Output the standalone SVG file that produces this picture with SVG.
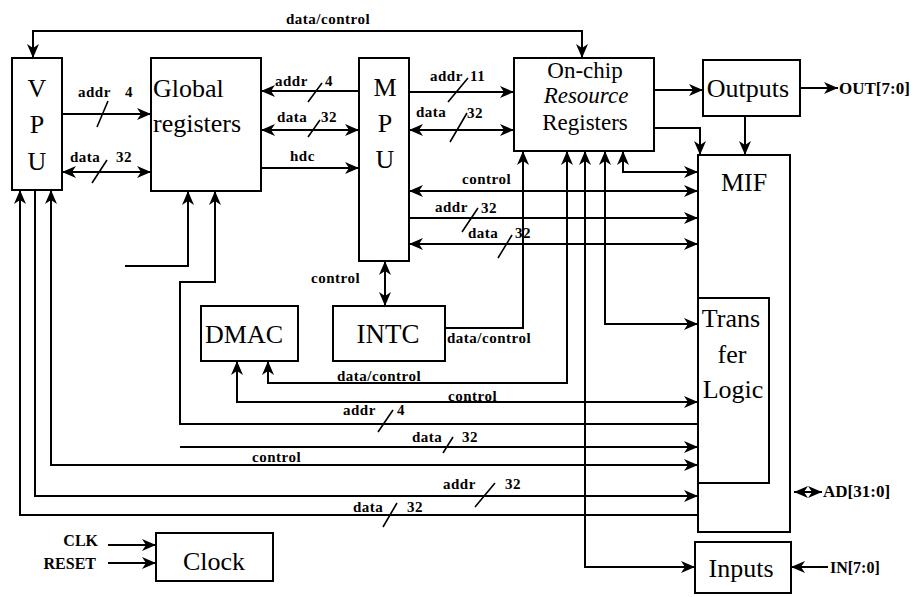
<svg xmlns="http://www.w3.org/2000/svg" width="918" height="597" viewBox="0 0 918 597" font-family="Liberation Serif, DejaVu Serif, serif">
<style>
.box{fill:#fff;stroke:#000;stroke-width:2}
.w{fill:none;stroke:#000;stroke-width:2}
.sl{stroke:#000;stroke-width:1.6;fill:none}
.big{font-size:26px}
.sm{font-size:15px;font-weight:bold;letter-spacing:0.5px}
.io{font-size:16px;font-weight:bold}
.mid{text-anchor:middle}
</style>
<defs>
<marker id="ah" viewBox="0 0 14 12" refX="14" refY="6" markerWidth="14" markerHeight="12" orient="auto-start-reverse" markerUnits="userSpaceOnUse">
<path d="M0,0 L14,6 L0,12 L4,6 z" fill="#000"/>
</marker>
</defs>
<rect width="918" height="597" fill="#fff"/>

<g id="vpu"><rect class="box" x="12" y="58" width="50" height="132"/>
<text class="big mid" x="37" y="97">V</text><text class="big mid" x="37" y="133">P</text><text class="big mid" x="37" y="170">U</text></g>
<g id="global"><rect class="box" x="151" y="58" width="110" height="133"/>
<text class="big" x="153" y="97">Global</text><text class="big" x="153" y="132">registers</text></g>
<g id="mpu"><rect class="box" x="359" y="58" width="50" height="203"/>
<text class="big mid" x="385" y="96">M</text><text class="big mid" x="385" y="132">P</text><text class="big mid" x="385" y="168">U</text></g>
<g id="onchip"><rect class="box" x="514" y="58" width="140" height="93"/>
<text class="big mid" x="585" y="78" style="font-size:23px">On-chip</text>
<text class="big mid" x="586" y="103" style="font-size:23px;font-style:italic">Resource</text>
<text class="big mid" x="585" y="130" style="font-size:23px">Registers</text></g>
<g id="outputs"><rect class="box" x="703" y="60" width="97" height="56"/>
<text class="big mid" x="748" y="97">Outputs</text></g>
<g id="mif"><rect class="box" x="698" y="155" width="92" height="377"/>
<text class="big mid" x="744" y="191">MIF</text></g>
<g id="transfer"><rect class="box" x="698" y="298" width="71" height="185"/>
<text class="big mid" x="731" y="327">Trans</text><text class="big mid" x="732" y="363">fer</text><text class="big mid" x="733" y="398">Logic</text></g>
<g id="dmac"><rect class="box" x="201" y="306" width="97" height="55"/>
<text class="big mid" x="244" y="343">DMAC</text></g>
<g id="intc"><rect class="box" x="333" y="306" width="112" height="55"/>
<text class="big mid" x="388" y="343" style="font-size:27px">INTC</text></g>
<g id="clock"><rect class="box" x="156" y="533" width="117" height="48"/>
<text class="big mid" x="214" y="570">Clock</text></g>
<g id="inputs"><rect class="box" x="695" y="542" width="96" height="51"/>
<text class="big mid" x="741" y="577">Inputs</text></g>

<g id="connectors">
<path class="w" d="M33,58 V31 H582 V58" marker-start="url(#ah)" marker-end="url(#ah)"/>
<path class="w" d="M62,114 H151" marker-end="url(#ah)"/>
<path class="w" d="M62,172 H151" marker-start="url(#ah)" marker-end="url(#ah)"/>
<path class="w" d="M359,91 H261" marker-end="url(#ah)"/>
<path class="w" d="M261,130 H359" marker-start="url(#ah)" marker-end="url(#ah)"/>
<path class="w" d="M261,168 H359" marker-end="url(#ah)"/>
<path class="w" d="M409,92 H514" marker-end="url(#ah)"/>
<path class="w" d="M409,130 H514" marker-start="url(#ah)" marker-end="url(#ah)"/>
<path class="w" d="M654,90 H703" marker-end="url(#ah)"/>
<path class="w" d="M800,88 H838" marker-end="url(#ah)"/>
<path class="w" d="M745,116 V155" marker-end="url(#ah)"/>
<path class="w" d="M654,128 H700 V155" marker-end="url(#ah)"/>
<path class="w" d="M409,191 H698" marker-start="url(#ah)" marker-end="url(#ah)"/>
<path class="w" d="M409,218 H698" marker-end="url(#ah)"/>
<path class="w" d="M409,244 H698" marker-start="url(#ah)" marker-end="url(#ah)"/>
<path class="w" d="M385,261 V306" marker-start="url(#ah)" marker-end="url(#ah)"/>
<path class="w" d="M445,328 H523 V151" marker-end="url(#ah)"/>
<path class="w" d="M623,151 V172 H698" marker-start="url(#ah)" marker-end="url(#ah)"/>
<path class="w" d="M605,151 V324 H698" marker-start="url(#ah)" marker-end="url(#ah)"/>
<path class="w" d="M585,151 V567 H695" marker-start="url(#ah)" marker-end="url(#ah)"/>
<path class="w" d="M567,151 V383 H268 V361" marker-start="url(#ah)" marker-end="url(#ah)"/>
<path class="w" d="M237,361 V402 H698" marker-start="url(#ah)" marker-end="url(#ah)"/>
<path class="w" d="M125,266 H188 V191" marker-end="url(#ah)"/>
<path class="w" d="M215,191 V282 H180 V424 H698" marker-start="url(#ah)"/>
<path class="w" d="M180,447 H698" marker-end="url(#ah)"/>
<path class="w" d="M51,190 V465 H698" marker-start="url(#ah)" marker-end="url(#ah)"/>
<path class="w" d="M35,190 V496 H698" marker-end="url(#ah)"/>
<path class="w" d="M20,190 V515 H698" marker-start="url(#ah)"/>
<path class="w" d="M794,492 H822" marker-start="url(#ah)" marker-end="url(#ah)"/>
<path class="w" d="M828,567 H791" marker-end="url(#ah)"/>
<path class="w" d="M108,545 H156" marker-end="url(#ah)"/>
<path class="w" d="M108,563 H156" marker-end="url(#ah)"/>
<path class="sl" d="M97,127 L108,101 M92,183 L107,160 M308,102 L322,83 M308,137 L320,120 M448,102 L468,78 M450,142 L467,113 M462,232 L478,208 M498,258 L512,235 M378,432 L393,410 M443,453 L453,437 M475,507 L495,483 M383,527 L397,503"/>
</g>

<g id="labels">
<text class="sm" x="286" y="24">data/control</text>
<text class="sm" x="78" y="97">addr</text><text class="sm" x="125" y="97">4</text>
<text class="sm" x="70" y="162">data</text><text class="sm" x="116" y="162">32</text>
<text class="sm" x="275" y="86">addr</text><text class="sm" x="325" y="86">4</text>
<text class="sm" x="277" y="122">data</text><text class="sm" x="321" y="122">32</text>
<text class="sm" x="290" y="161">hdc</text>
<text class="sm" x="430" y="81">addr</text><text class="sm" x="470" y="81">11</text>
<text class="sm" x="416" y="117">data</text><text class="sm" x="467" y="118">32</text>
<text class="sm" x="462" y="184">control</text>
<text class="sm" x="435" y="212">addr</text><text class="sm" x="481" y="213">32</text>
<text class="sm" x="468" y="238">data</text><text class="sm" x="515" y="238">32</text>
<text class="sm" x="311" y="283">control</text>
<text class="sm" x="447" y="343">data/control</text>
<text class="sm" x="337" y="381">data/control</text>
<text class="sm" x="448" y="401">control</text>
<text class="sm" x="343" y="415">addr</text><text class="sm" x="397" y="415">4</text>
<text class="sm" x="412" y="442">data</text><text class="sm" x="462" y="442">32</text>
<text class="sm" x="252" y="462">control</text>
<text class="sm" x="443" y="489">addr</text><text class="sm" x="505" y="489">32</text>
<text class="sm" x="353" y="512">data</text><text class="sm" x="407" y="512">32</text>
<text class="io" x="839" y="94" style="font-size:17px">OUT[7:0]</text>
<text class="io" x="823" y="497" style="font-size:17px">AD[31:0]</text>
<text class="io" x="830" y="573">IN[7:0]</text>
<text class="io" x="98" y="546" text-anchor="end">CLK</text>
<text class="io" x="96" y="569" text-anchor="end">RESET</text>
</g>
</svg>
